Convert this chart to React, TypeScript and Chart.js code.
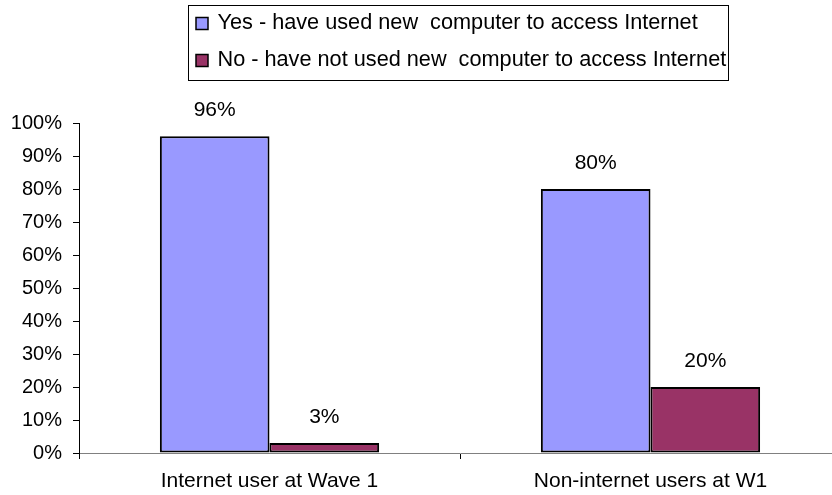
import React, { useEffect, useRef } from "react";
import { Chart, registerables } from "chart.js";

Chart.register(...registerables);

const categories = ["Internet user at Wave 1", "Non-internet users at W1"];
const seriesNames = [
  "Yes - have used new  computer to access Internet",
  "No - have not used new  computer to access Internet",
];
const yesValues = [0.96, 0.8];
const noValues = [0.03, 0.2];
const seriesColors = ["#9999FF", "#993366"];
const yMin = 0;
const yMax = 1;
const yStep = 0.1;

const FONT = "'Liberation Sans', Arial, sans-serif";

const pct = (v: number) => `${Math.round(v * 100)}%`;

const dataLabelPlugin = {
  id: "dataLabels",
  afterDatasetsDraw(chart: any) {
    const ctx = chart.ctx;
    ctx.save();
    ctx.font = `21px ${FONT}`;
    ctx.fillStyle = "#000";
    ctx.textAlign = "center";
    ctx.textBaseline = "middle";
    chart.data.datasets.forEach((ds: any, di: number) => {
      const meta = chart.getDatasetMeta(di);
      meta.data.forEach((bar: any, i: number) => {
        ctx.fillText(pct(ds.data[i]), bar.x, bar.y - 26);
      });
    });
    ctx.restore();
  },
};

const boxLegendPlugin = {
  id: "boxLegend",
  afterDraw(chart: any) {
    const ctx = chart.ctx;
    ctx.save();
    ctx.strokeStyle = "#000";
    ctx.lineWidth = 1;
    ctx.strokeRect(188.5, 5.5, 540, 75);
    ctx.font = `21.7px ${FONT}`;
    ctx.textAlign = "left";
    ctx.textBaseline = "middle";
    const rows = [23.5, 60.5];
    chart.data.datasets.forEach((ds: any, i: number) => {
      const cy = rows[i];
      ctx.fillStyle = ds.backgroundColor;
      ctx.fillRect(196, cy - 6, 12, 12);
      ctx.strokeStyle = "#000";
      ctx.lineWidth = 1.5;
      ctx.strokeRect(196, cy - 6, 12, 12);
      ctx.fillStyle = "#000";
      ctx.fillText(ds.label, 217.5, cy);
    });
    ctx.restore();
  },
};

export default function App() {
  const ref = useRef<HTMLCanvasElement | null>(null);

  useEffect(() => {
    if (!ref.current) return;
    const chart = new Chart(ref.current, {
      type: "bar",
      data: {
        labels: categories,
        datasets: [
          {
            label: seriesNames[0],
            data: yesValues,
            backgroundColor: seriesColors[0],
            borderColor: "#000",
            borderWidth: 2,
            borderSkipped: false,
            barPercentage: 1,
            categoryPercentage: 0.5755,
          },
          {
            label: seriesNames[1],
            data: noValues,
            backgroundColor: seriesColors[1],
            borderColor: "#000",
            borderWidth: 2,
            borderSkipped: false,
            barPercentage: 1,
            categoryPercentage: 0.5755,
          },
        ],
      },
      options: {
        responsive: false,
        animation: false,
        devicePixelRatio: 1,
        layout: { padding: { top: 123, left: 0, right: 0, bottom: 0 } },
        plugins: {
          legend: { display: false },
          tooltip: { enabled: false },
        },
        scales: {
          x: {
            afterFit: (s: any) => {
              s.height = 42;
            },
            grid: {
              offset: true,
              drawOnChartArea: false,
              tickLength: 6,
              color: "#000",
            },
            border: { color: "#808080", width: 1 },
            ticks: {
              color: "#000",
              font: { family: FONT, size: 21 },
              padding: 10,
              maxRotation: 0,
            },
          },
          y: {
            min: yMin,
            max: yMax,
            afterFit: (s: any) => {
              s.width = 79;
            },
            grid: {
              drawOnChartArea: false,
              tickLength: 6,
              color: "#000",
            },
            border: { color: "#000", width: 1 },
            ticks: {
              stepSize: yStep,
              color: "#000",
              font: { family: FONT, size: 20 },
              padding: 11,
              callback: (v: any) => pct(Number(v)),
            },
          },
        },
      },
      plugins: [dataLabelPlugin, boxLegendPlugin],
    });
    return () => chart.destroy();
  }, []);

  return (
    <div
      style={{
        position: "absolute",
        left: 0,
        top: 0,
        width: 832,
        height: 495,
        overflow: "hidden",
        background: "#fff",
      }}
    >
      <canvas ref={ref} width={841} height={495} style={{ width: 841, height: 495, display: "block" }} />
    </div>
  );
}
